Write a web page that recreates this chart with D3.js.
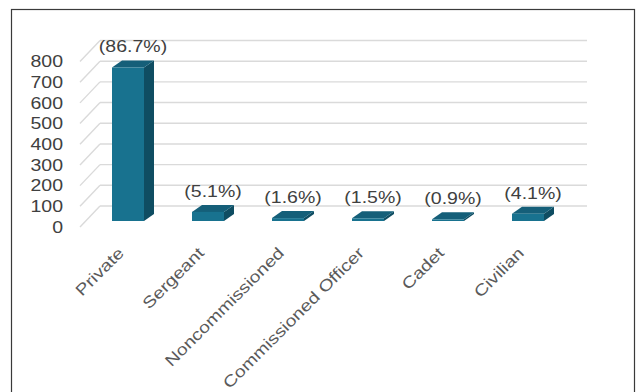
<!DOCTYPE html>
<html>
<head>
<meta charset="utf-8">
<script src="https://cdn.jsdelivr.net/npm/d3@7"></script>
<style>
  html, body { margin: 0; padding: 0; background: #fff; }
  svg { display: block; }
  text { font-family: "Liberation Sans", Arial, sans-serif; }
</style>
</head>
<body>
<svg id="chart" width="639" height="392"></svg>
<script>
// Rank of the people counted, with their headcount
const categories = ["Private", "Sergeant", "Noncommissioned", "Commissioned Officer", "Cadet", "Civilian"];
const counts = [742, 44, 14, 13, 8, 35];
const yTicks = [0, 100, 200, 300, 400, 500, 600, 700, 800];

const total = d3.sum(counts);
const pct = d3.format(".1f");

const svg = d3.select("#chart");

// Frame around the chart area
svg.append("rect")
  .attr("x", 11.5).attr("y", 9.5)
  .attr("width", 623).attr("height", 400)
  .attr("fill", "#fff").attr("stroke", "#3a3a3a").attr("stroke-width", 1.2);

// Pseudo-3D geometry: front plane, back wall offset, bar plane offset
const wallDx = 20, wallDy = -21;   // depth of the floor / walls
const barDx = 6, barDy = -6;       // bars sit a little behind the front plane
const barDepthX = 10, barDepthY = -7;
const stretch = 1.22;              // horizontal type stretch
const fontSize = 16;

const x = d3.scaleBand().domain(categories).range([82, 562])
  .paddingInner(0.6).paddingOuter(0.3);
const y = d3.scaleLinear().domain([0, 800]).range([227, 61.5]);

// Back-wall gridlines and the diagonals on the side wall
const grid = svg.append("g");
yTicks.forEach(t => {
  grid.append("line")
    .attr("x1", 80 + wallDx).attr("x2", 587)
    .attr("y1", y(t) + wallDy).attr("y2", y(t) + wallDy)
    .attr("stroke", "#dadada").attr("stroke-width", 1.4);
  grid.append("line")
    .attr("x1", 80).attr("x2", 80 + wallDx)
    .attr("y1", y(t)).attr("y2", y(t) + wallDy)
    .attr("stroke", "#dadada").attr("stroke-width", 1.4);
});

// Y axis labels
svg.append("g").selectAll("text").data(yTicks).join("text")
  .attr("transform", d => `translate(63,${y(d)}) scale(${stretch},1)`)
  .attr("text-anchor", "end").attr("dy", "0.36em")
  .attr("font-size", fontSize).attr("fill", "#404040")
  .text(d => d);

// Bars: front face, top face, right side face
const bars = svg.append("g").selectAll("g").data(categories).join("g");
bars.each(function(c, i) {
  const g = d3.select(this);
  const x0 = x(c) + barDx, w = x.bandwidth();
  const yt = y(counts[i]) + barDy, yb = y(0) + barDy;
  g.append("polygon")
    .attr("points", [[x0 + w, yt], [x0 + w + barDepthX, yt + barDepthY],
      [x0 + w + barDepthX, yb + barDepthY], [x0 + w, yb]].join(" "))
    .attr("fill", "#0f4d62");
  g.append("polygon")
    .attr("points", [[x0, yt], [x0 + barDepthX, yt + barDepthY],
      [x0 + w + barDepthX, yt + barDepthY], [x0 + w, yt]].join(" "))
    .attr("fill", "#155f79");
  g.append("rect")
    .attr("x", x0).attr("y", yt)
    .attr("width", w).attr("height", Math.max(yb - yt, 0.5))
    .attr("fill", "#18728f");
});

// Share labels above the bars
svg.append("g").selectAll("text").data(categories).join("text")
  .attr("transform", (c, i) =>
    `translate(${x(c) + barDx + x.bandwidth() / 2 + 5},${y(counts[i]) + barDy - 15}) scale(${stretch},1)`)
  .attr("text-anchor", "middle")
  .attr("font-size", fontSize).attr("fill", "#404040")
  .text((c, i) => `(${pct(counts[i] / total * 100)}%)`);

// Category labels, slanted
svg.append("g").selectAll("text").data(categories).join("text")
  .attr("transform", c =>
    `translate(${x(c) + x.bandwidth() / 2 + 3},254) rotate(-45) scale(${stretch},1)`)
  .attr("text-anchor", "end")
  .attr("font-size", fontSize).attr("fill", "#5a5a5a")
  .text(c => c);
</script>
</body>
</html>
